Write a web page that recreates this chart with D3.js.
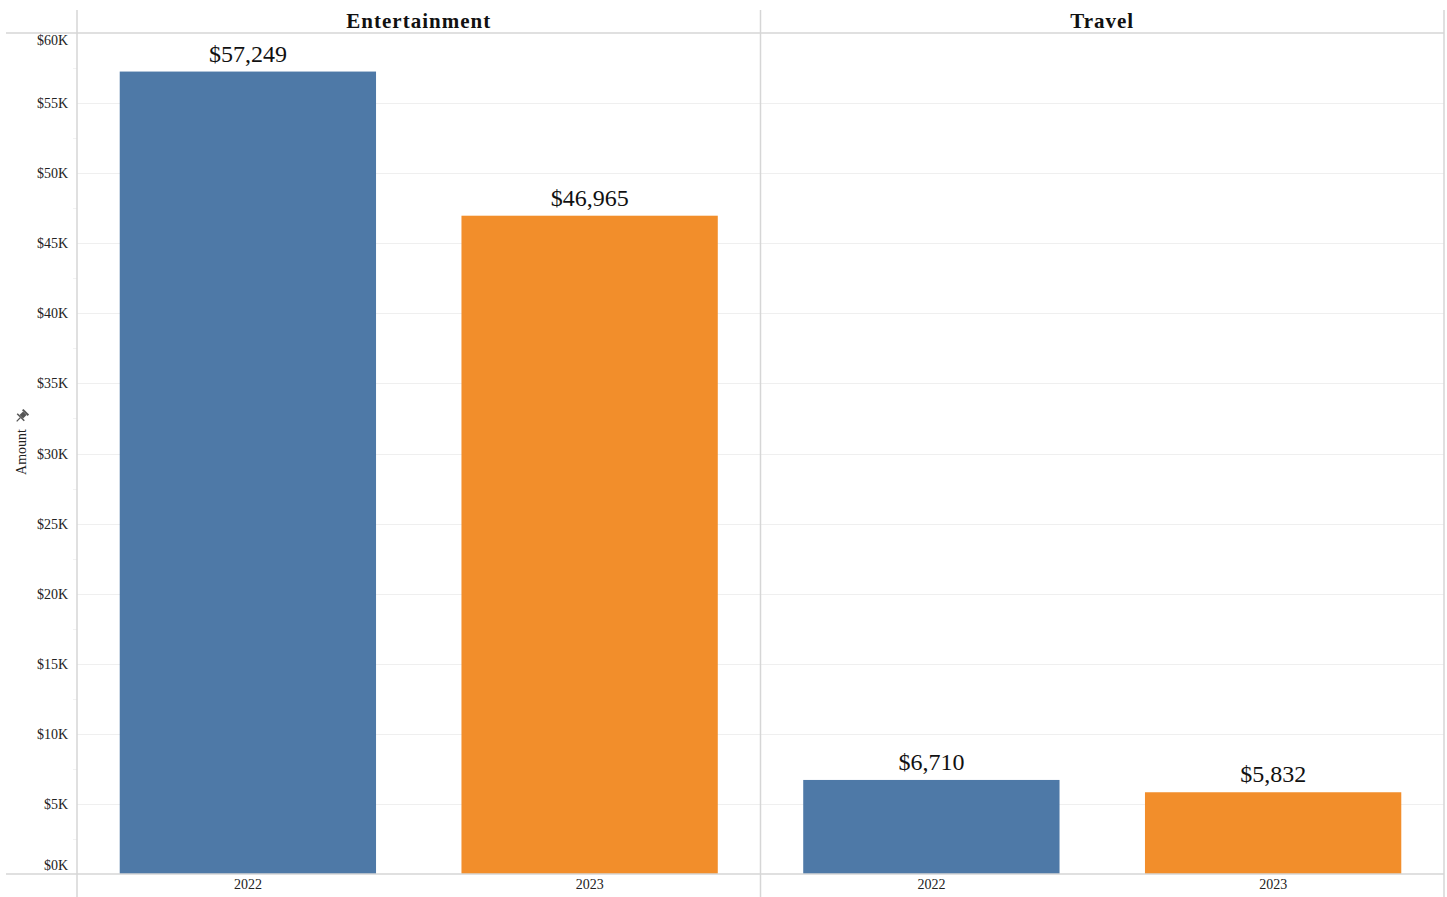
<!DOCTYPE html>
<html>
<head>
<meta charset="utf-8">
<script src="https://cdn.jsdelivr.net/npm/d3@7"></script>
<style>
  body { margin: 0; background: #fff; }
  text { font-family: "Liberation Serif", "Times New Roman", serif; }
</style>
</head>
<body>
<div id="chart"></div>
<script>
// data
var categories = ["Entertainment", "Travel"];
var years = ["2022", "2023"];
var amounts2022 = [57249, 6710];
var amounts2023 = [46965, 5832];
var yTicks = [0, 5000, 10000, 15000, 20000, 25000, 30000, 35000, 40000, 45000, 50000, 55000, 60000];
var colors = ["#4e79a7", "#f28e2b"];

var svgWidth = 1447;
var svgHeight = 897;

// plot area edges
var plot = { left: 77, right: 1444, top: 33, bottom: 874 };

var svg = d3.select("#chart")
  .append("svg")
  .attr("width", svgWidth)
  .attr("height", svgHeight);

var rows = [];
categories.forEach(function(c, i) {
  rows.push({cat: c, year: years[0], value: amounts2022[i]});
  rows.push({cat: c, year: years[1], value: amounts2023[i]});
});

// scales
var yScale = d3.scaleLinear().domain([0, 60000]).range([plot.bottom, plot.top]);
var panelScale = d3.scaleBand().domain(categories).range([plot.left, plot.right]);
var yearScale = d3.scaleBand().domain(years)
  .range([0, panelScale.bandwidth()])
  .paddingInner(0.25).paddingOuter(0.125);

// gridlines
svg.append("g")
  .selectAll("line")
  .data(yTicks.filter(d => d > 0 && d < 60000))
  .enter()
  .append("line")
  .attr("x1", plot.left).attr("x2", plot.right)
  .attr("y1", d => Math.round(yScale(d)) + 0.5)
  .attr("y2", d => Math.round(yScale(d)) + 0.5)
  .attr("stroke", "#efefef");

// faint minor ticks at the axis
svg.append("g")
  .selectAll("line")
  .data(yTicks.slice(0, -1).map(d => d + 2500))
  .enter()
  .append("line")
  .attr("x1", plot.left - 4).attr("x2", plot.left)
  .attr("y1", d => Math.round(yScale(d)) + 0.5)
  .attr("y2", d => Math.round(yScale(d)) + 0.5)
  .attr("stroke", "#f2f2f2");

// bars
svg.append("g")
  .selectAll("rect")
  .data(rows)
  .enter()
  .append("rect")
  .attr("x", d => panelScale(d.cat) + yearScale(d.year))
  .attr("width", yearScale.bandwidth())
  .attr("y", d => yScale(d.value))
  .attr("height", d => yScale(0) - yScale(d.value))
  .attr("fill", d => colors[years.indexOf(d.year)]);

// value labels
svg.append("g")
  .selectAll("text")
  .data(rows)
  .enter()
  .append("text")
  .attr("x", d => panelScale(d.cat) + yearScale(d.year) + yearScale.bandwidth() / 2)
  .attr("y", d => yScale(d.value) - 10)
  .attr("text-anchor", "middle")
  .attr("font-size", "24px")
  .attr("fill", "#111")
  .text(d => "$" + d3.format(",")(d.value));

// frame lines
var frame = svg.append("g").attr("stroke", "#d6d6d6").attr("stroke-width", 1.5);
frame.append("line").attr("x1", 6).attr("x2", plot.right).attr("y1", plot.top).attr("y2", plot.top);
frame.append("line").attr("x1", 6).attr("x2", plot.right).attr("y1", plot.bottom).attr("y2", plot.bottom);
categories.concat(["end"]).forEach(function(c) {
  var x = c === "end" ? plot.right : panelScale(c);
  frame.append("line").attr("x1", x).attr("x2", x).attr("y1", 10).attr("y2", svgHeight);
});

// panel headers
svg.append("g")
  .selectAll("text")
  .data(categories)
  .enter()
  .append("text")
  .attr("x", d => panelScale(d) + panelScale.bandwidth() / 2)
  .attr("y", 28)
  .attr("text-anchor", "middle")
  .attr("font-size", "21px")
  .attr("font-weight", "bold")
  .attr("letter-spacing", "1px")
  .attr("fill", "#111")
  .text(d => d);

// y tick labels (edge ones nudged inside)
svg.append("g")
  .selectAll("text")
  .data(yTicks)
  .enter()
  .append("text")
  .attr("x", 68)
  .attr("y", d => d === 60000 ? yScale(d) + 12 : d === 0 ? yScale(d) - 4 : yScale(d) + 5)
  .attr("text-anchor", "end")
  .attr("font-size", "14px")
  .attr("fill", "#222")
  .text(d => "$" + d / 1000 + "K");

// x tick labels
svg.append("g")
  .selectAll("text")
  .data(rows)
  .enter()
  .append("text")
  .attr("x", d => panelScale(d.cat) + yearScale(d.year) + yearScale.bandwidth() / 2)
  .attr("y", 889)
  .attr("text-anchor", "middle")
  .attr("font-size", "14px")
  .attr("fill", "#222")
  .text(d => d.year);

// axis title
svg.append("text")
  .attr("transform", "translate(26, 452) rotate(-90)")
  .attr("text-anchor", "middle")
  .attr("font-size", "14px")
  .attr("fill", "#222")
  .text("Amount");

// pin icon
var pin = svg.append("g")
  .attr("transform", "translate(22, 416) rotate(45)")
  .attr("fill", "#555");
pin.append("rect").attr("x", -4).attr("y", -6).attr("width", 8).attr("height", 2);
pin.append("rect").attr("x", -2.5).attr("y", -4).attr("width", 5).attr("height", 5);
pin.append("rect").attr("x", -5).attr("y", 1).attr("width", 10).attr("height", 1.5);
pin.append("rect").attr("x", -0.6).attr("y", 2.5).attr("width", 1.2).attr("height", 5);
</script>
</body>
</html>
